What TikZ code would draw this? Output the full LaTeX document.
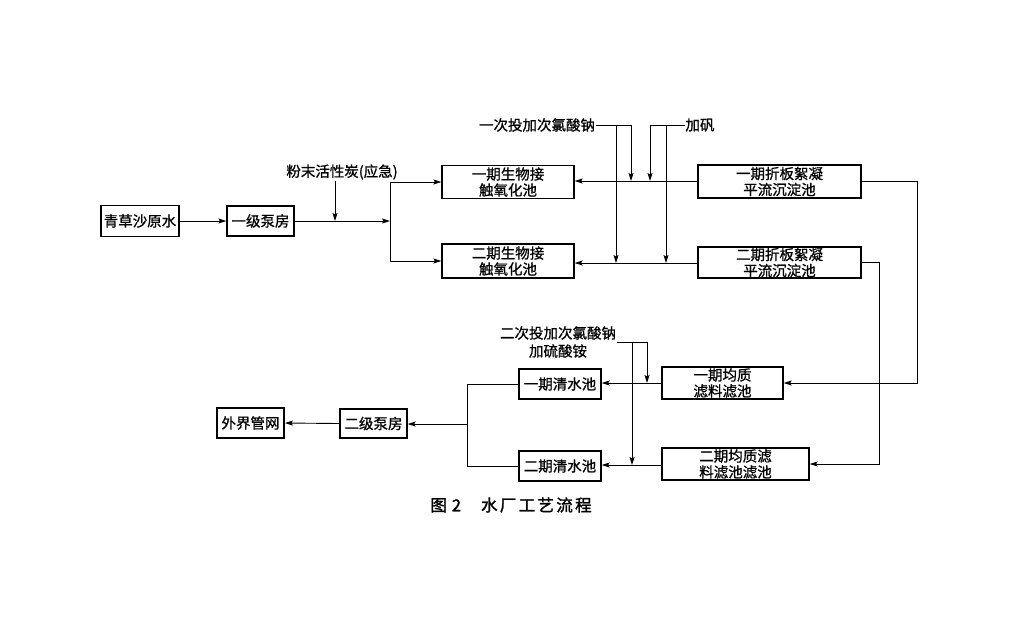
\documentclass[tikz,border=0pt]{standalone}
\usepackage{fontspec}
\newfontfamily\cjk[FakeBold=0.9]{Noto Sans CJK SC}
\newfontfamily\cjkcap[FakeBold=1.6,LetterSpace=14]{Noto Sans CJK SC}
\usetikzlibrary{arrows.meta}

\tikzset{
  pool/.style={draw, line width=1.3pt, inner sep=0pt, align=center,
    font=\cjk\fontsize{14.5}{16}\selectfont},
  chem/.style={inner sep=0.75pt, align=center, font=\cjk\fontsize{14.5}{18}\selectfont},
  flow/.style={line width=0.9pt, -{Stealth[length=8pt,width=5pt,inset=1.5pt]}},
  pipe/.style={line width=0.9pt}
}

\begin{document}
\begin{tikzpicture}[x=1pt,y=1pt,yscale=-1,xscale=1]
\useasboundingbox (0,0) rectangle (1024,625);

%Shape: Rectangle [raw water]
\node (raw) at (140,221) [pool, minimum width=78, minimum height=31] {青草沙原水};
%Shape: Rectangle [pump 1]
\node (pumpA) at (260.5,221) [pool, minimum width=67, minimum height=30] {一级泵房};
%Shape: Rectangle [bio 1]
\node (bioA) at (508,182) [pool, minimum width=132, minimum height=33] {一期生物接\\触氧化池};
%Shape: Rectangle [bio 2]
\node (bioB) at (508,261) [pool, minimum width=132, minimum height=34] {二期生物接\\触氧化池};
%Shape: Rectangle [floc 1]
\node (flocA) at (779.5,181.5) [pool, minimum width=163, minimum height=33] {一期折板絮凝\\平流沉淀池};
%Shape: Rectangle [floc 2]
\node (flocB) at (779.5,262.5) [pool, minimum width=163, minimum height=31] {二期折板絮凝\\平流沉淀池};
%Shape: Rectangle [filter 1]
\node (filtA) at (722.5,383) [pool, minimum width=121, minimum height=32] {一期均质\\滤料滤池};
%Shape: Rectangle [filter 2]
\node (filtB) at (735.5,464) [pool, minimum width=147, minimum height=32] {二期均质滤\\料滤池滤池};
%Shape: Rectangle [clear water 1]
\node (clearA) at (560,384) [pool, minimum width=82, minimum height=30] {一期清水池};
%Shape: Rectangle [clear water 2]
\node (clearB) at (560,466) [pool, minimum width=82, minimum height=30] {二期清水池};
%Shape: Rectangle [pump 2]
\node (pumpB) at (373.5,423.5) [pool, minimum width=67, minimum height=29] {二级泵房};
%Shape: Rectangle [network]
\node (net) at (250.5,423) [pool, line width=1.8pt, minimum width=67, minimum height=30] {外界管网};

% Text Node
\node (pac) at (342,172) [chem] {粉末活性炭(应急)};
% Text Node
\node (naoclA) at (537,125) [chem] {一次投加次氯酸钠};
% Text Node
\node (alum) at (700,125) [chem] {加矾};
% Text Node
\node (naoclB) at (558,342) [chem] {二次投加次氯酸钠\\加硫酸铵};
% Text Node
\node (cap) at (511,505) [inner sep=0.75pt, font=\cjkcap\fontsize{16.5}{18}\selectfont] {图\hspace{5pt}2\hspace{20pt}水厂工艺流程};

\coordinate (split) at (390,221);
\coordinate (pacin) at (335,221);
\coordinate (dA1) at (631,181);
\coordinate (dA2) at (616,263);
\coordinate (dB1) at (650,181);
\coordinate (dB2) at (666,263);
\coordinate (dC1) at (647,383);
\coordinate (dC2) at (632,465);
\coordinate (join) at (467,424);

%Straight Lines
\draw [flow] (raw) -- (pumpA);
\draw [flow] (pumpA) -- (split);
\draw [flow] (split) |- (bioA.west);
\draw [flow] (split) |- (bioB.west);
\draw [flow] (pac.south -| pacin) -- (pacin);
\draw [flow] (flocA.west |- dA1) -- (bioA.east |- dA1);
\draw [flow] (flocB.west |- dA2) -- (bioB.east |- dA2);
\draw [flow] (naoclA.east) -| (dA1);
\draw [flow] (naoclA.east -| dA2) -- (dA2);
\draw [flow] (alum.west) -| (dB1);
\draw [flow] (alum.west -| dB2) -- (dB2);
\draw [flow] (flocA.east) -- ++(56,0) |- (filtA.east);
\draw [flow] (flocB.east) -- ++(18,0) |- (filtB.east);
\draw [flow] (filtA.west |- dC1) -- (clearA.east |- dC1);
\draw [flow] (filtB.west |- dC2) -- (clearB.east |- dC2);
\draw [flow] (naoclB.east) -| (dC1);
\draw [flow] (naoclB.east -| dC2) -- (dC2);
\draw [pipe] (clearA.west) -| (join);
\draw [pipe] (clearB.west) -| (join);
\draw [flow] (join) -- (pumpB.east |- join);
\draw [flow] (pumpB.west) -- (net.east);

\end{tikzpicture}
\end{document}
